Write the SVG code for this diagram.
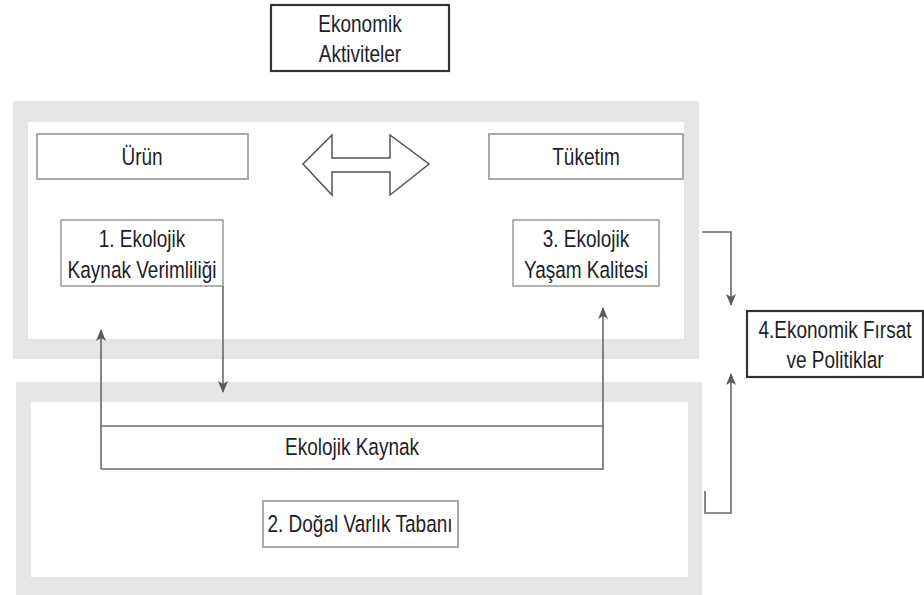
<svg xmlns="http://www.w3.org/2000/svg" width="924" height="595" viewBox="0 0 924 595">
<style>
.t{font-family:"Liberation Sans",Arial,sans-serif;font-size:19px;fill:#1e1e2a;text-anchor:middle}
.frame{fill:#e6e6e6;fill-rule:evenodd}
.gbox{fill:#fff;stroke:#a8a8a8;stroke-width:2}
.lbox{fill:#fff;stroke:#999;stroke-width:1.5}
.dbox{fill:#fff;stroke:#333;stroke-width:2.2}
.con{fill:none;stroke:#6a6a6a;stroke-width:1.6}
</style>
<defs>
<marker id="ah" viewBox="0 0 12 10" refX="11" refY="5" markerWidth="12" markerHeight="10" markerUnits="userSpaceOnUse" orient="auto">
<path d="M0,0 L12,5 L0,10 L3,5 Z" fill="#5a5a5a"/>
</marker>
</defs>
<rect width="924" height="595" fill="#fff"/>
<g id="frame-top"><path class="frame" d="M13,101 H699 V359 H13 Z M28,122 H684 V339 H28 Z"/></g>
<g id="frame-bottom"><path class="frame" d="M16,382 H702 V595 H16 Z M31,402 H688 V577 H31 Z"/></g>
<g id="ekonomik-aktiviteler">
<rect class="dbox" x="271" y="5" width="178" height="66"/>
<text class="t" transform="translate(360,32) scale(1,1.27)">Ekonomik</text>
<text class="t" transform="translate(360,62) scale(1,1.27)">Aktiviteler</text>
</g>
<g id="urun">
<rect class="gbox" x="37" y="134" width="211" height="45"/>
<text class="t" transform="translate(142,165) scale(1,1.27)">Ürün</text>
</g>
<g id="tuketim">
<rect class="gbox" x="489" y="134" width="194" height="45"/>
<text class="t" transform="translate(586,165) scale(1,1.27)">Tüketim</text>
</g>
<g id="double-arrow">
<path d="M303,164 L332,135 V158 H390 V135 L429,164 L390,195 V172 H332 V195 Z" fill="#fff" stroke="#555" stroke-width="1.5" stroke-linejoin="miter"/>
</g>
<g id="ekolojik-verimlilik">
<rect class="lbox" x="61" y="220" width="162" height="66"/>
<text class="t" transform="translate(142,247) scale(1,1.27)">1. Ekolojik</text>
<text class="t" transform="translate(142,278) scale(1,1.27)">Kaynak Verimliliği</text>
</g>
<g id="yasam-kalitesi">
<rect class="lbox" x="513" y="220" width="146" height="66"/>
<text class="t" transform="translate(586,247) scale(1,1.27)">3. Ekolojik</text>
<text class="t" transform="translate(586,278) scale(1,1.27)">Yaşam Kalitesi</text>
</g>
<g id="ekonomik-firsat">
<rect class="dbox" x="747" y="311" width="176" height="66"/>
<text class="t" transform="translate(835,338) scale(1,1.27)">4.Ekonomik Fırsat</text>
<text class="t" transform="translate(835,368) scale(1,1.27)">ve Politiklar</text>
</g>
<g id="ekolojik-kaynak">
<path class="con" d="M101,426 H603"/>
<text class="t" transform="translate(352,455) scale(1,1.27)">Ekolojik Kaynak</text>
</g>
<g id="dogal-varlik">
<rect class="gbox" x="263" y="501" width="195" height="46"/>
<text class="t" transform="translate(360,532) scale(1,1.27)">2. Doğal Varlık Tabanı</text>
</g>
<g id="connectors">
<path class="con" d="M223,286 V392" marker-end="url(#ah)"/>
<path class="con" d="M101,469 V330" marker-end="url(#ah)"/>
<path class="con" d="M101,469 H603 V308" marker-end="url(#ah)"/>
<path class="con" d="M702,232 H731 V305" marker-end="url(#ah)"/>
<path class="con" d="M705,491 V513 H731 V374" marker-end="url(#ah)"/>
</g>
</svg>
